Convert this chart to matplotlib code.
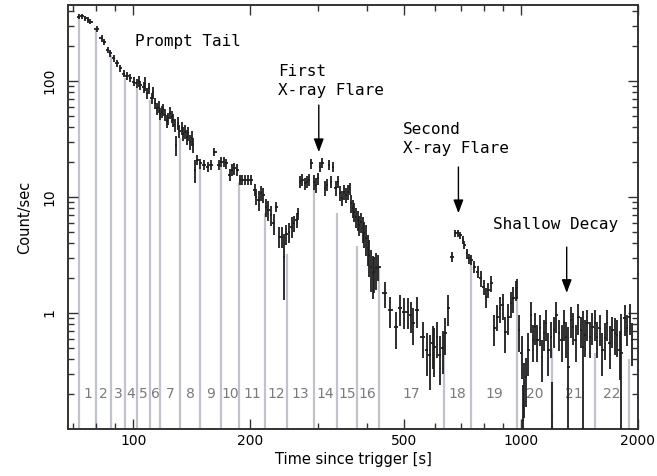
import numpy as np
import matplotlib
matplotlib.use("Agg")
import matplotlib.pyplot as plt
from matplotlib.ticker import LogLocator, FixedLocator, NullFormatter

# light curve: time [s], rate [count/s], relative error
t = [72.3, 73.8, 75.3, 76.3, 77.5, 80.6, 83.1, 83.9, 85.9, 87.3, 89.0, 90.8,
     92.6, 94.4, 96.3, 98.2, 100.2, 102.2, 103.5, 104.2, 106.3, 107.5, 108.4, 109.5,
     111.7, 112.5, 113.9, 115.0, 116.2, 117.5, 118.5, 119.5, 120.8, 122.0, 123.2, 124.5,
     125.7, 127.0, 128.2, 128.7, 130.7, 131.5, 133.4, 134.5, 136.0, 137.5, 138.7, 140.0,
     141.5, 142.5, 144.3, 146.3, 148.7, 152.1, 155.5, 158.3, 161.9, 166.5, 168.5, 170.9,
     173.7, 177.1, 179.7, 182.0, 185.5, 188.5, 191.2, 194.2, 198.0, 201.4, 205.5, 207.5,
     210.5, 213.8, 216.6, 219.7, 223.0, 226.2, 230.4, 233.9, 237.8, 242.0, 245.0, 248.3,
     251.8, 255.9, 259.9, 263.9, 266.4,
     # first flare
     268.7, 273.0, 276.8, 280.6, 283.9, 288.0, 292.0, 295.4, 299.5, 303.8, 307.4, 311.6,
     315.9, 319.6, 324.2, 327.3, 332.6, 337.2, 340.6, 344.6, 348.7, 352.8, 357.0, 361.3,
     364.1, 367.8, 371.5, 375.0, 378.8, 382.6, 386.3, 390.2, 394.1, 397.9, 401.9, 405.9,
     409.8, 414.0, 417.2, 421.4, 428.2, 444.5, 459.7, 476.3, 488.6, 498.3, 510.2, 520.6,
     527.7, 538.1, 557.6, 571.0, 582.6, 591.6, 597.5, 605.8, 618.0, 627.6, 636.6, 649.1,
     # second flare
     663.6, 676.6, 687.6, 697.0, 706.6, 714.0, 723.5, 735.1, 743.9, 757.2, 772.1, 787.8,
     800.0, 811.5, 822.6, 835.8, 852.3, 867.6, 881.6, 895.3, 909.8, 926.0, 942.6, 955.5,
     969.1, 975.0,
     # shallow decay
     988, 1004, 1010, 1018, 1032, 1044, 1059, 1073, 1086, 1101, 1117, 1130, 1146, 1162,
     1175, 1192, 1204, 1216, 1233, 1253, 1273, 1290, 1307, 1323, 1342, 1360, 1382, 1404,
     1424, 1444, 1461, 1481, 1502, 1526, 1550, 1571, 1594, 1618, 1644, 1667, 1690, 1717,
     1744, 1768, 1793, 1812, 1847, 1876, 1903, 1932]

rate = [358, 363, 347, 336, 325, 279, 233, 218, 185, 173, 157, 142,
        129, 116, 110, 106, 98.6, 95.5, 100, 92.4, 88.3, 95, 78.4, 86.5,
        71, 80, 64.3, 58, 60, 52, 54.4, 57, 50.9, 45, 47.7, 53,
        49.2, 46, 41.8, 28, 43.2, 37, 39.1, 35, 36.6, 33, 35.4, 30,
        32.1, 28, 17, 20.8, 19.5, 18.9, 18.2, 18.9, 24.6, 18.9, 20.1, 20.1,
        19.5, 15.5, 17.1, 17.7, 17.1, 14.0, 14.0, 14.0, 14.0, 14.0, 11.5, 10.1,
        9.4, 10.8, 10.4, 8.2, 7.7, 7.0, 5.93, 8.2, 4.55, 4.55, 3.06, 4.8,
        5.02, 5.55, 5.93, 6.33, 7.2,
        13.55, 14.0, 13.1, 13.55, 14.0, 19.5, 13.55, 12.7, 14.5, 18.2, 19.8, 11.9,
        12.7, 18.9, 13.55, 18.2, 11.9, 13.55, 10.8, 9.75, 11.1, 10.4, 11.1, 11.9,
        8.83, 7.98, 7.47, 6.76, 6.33, 5.74, 6.12, 5.37, 4.87, 4.41, 3.61, 3.16,
        2.51, 2.20, 2.27, 2.43, 2.51, 1.48, 1.06, 0.753, 1.10, 1.03, 1.03, 0.96,
        0.815, 1.06, 0.625, 0.480, 0.434, 0.548, 0.513, 0.625, 0.434, 0.496, 0.668, 1.10,
        3.06, 4.87, 4.87, 4.70, 4.26, 3.86, 3.27, 2.96, 2.86, 2.51, 2.27, 1.99,
        1.69, 1.38, 1.58, 1.80, 0.738, 0.929, 1.10, 1.17, 0.690, 0.929, 1.21, 1.34,
        1.58, 1.65,
        0.714, 0.449, 0.12, 0.248, 0.282, 0.480, 0.96, 0.585, 0.762, 0.585, 0.738, 0.42, 0.668, 0.815,
        0.48, 0.625, 0.13, 0.714, 0.96, 0.668, 0.585, 0.815, 0.625, 0.344, 0.87, 0.762, 0.585, 0.929,
        0.714, 0.512, 0.646, 0.815, 0.625, 0.762, 0.815, 0.625, 0.738, 0.48, 0.605, 0.815, 0.548, 0.714,
        0.668, 0.646, 0.48, 0.45, 0.90, 0.738, 0.929, 0.585]

rel_err = [0.05, 0.05, 0.05, 0.05, 0.05, 0.06, 0.06, 0.06, 0.06, 0.06, 0.07, 0.07,
           0.07, 0.07, 0.08, 0.08, 0.09, 0.09, 0.11, 0.09, 0.10, 0.14, 0.10, 0.11,
           0.11, 0.12, 0.11, 0.12, 0.11, 0.12, 0.12, 0.12, 0.12, 0.13, 0.12, 0.12,
           0.12, 0.13, 0.13, 0.20, 0.13, 0.13, 0.13, 0.14, 0.14, 0.15, 0.14, 0.15,
           0.15, 0.15, 0.22, 0.10, 0.10, 0.10, 0.10, 0.10, 0.08, 0.10, 0.10, 0.10,
           0.10, 0.12, 0.12, 0.12, 0.12, 0.10, 0.10, 0.10, 0.10, 0.10, 0.12, 0.15,
           0.20, 0.15, 0.15, 0.18, 0.20, 0.20, 0.20, 0.10, 0.20, 0.20, 0.58, 0.20,
           0.20, 0.20, 0.15, 0.15, 0.12,
           0.12, 0.12, 0.12, 0.12, 0.12, 0.10, 0.15, 0.15, 0.12, 0.10, 0.10, 0.15,
           0.12, 0.10, 0.12, 0.10, 0.15, 0.12, 0.15, 0.15, 0.15, 0.15, 0.15, 0.12,
           0.18, 0.18, 0.18, 0.20, 0.20, 0.20, 0.20, 0.25, 0.25, 0.30, 0.30, 0.35,
           0.40, 0.40, 0.35, 0.35, 0.25, 0.25, 0.30, 0.35, 0.30, 0.30, 0.30, 0.30,
           0.35, 0.30, 0.35, 0.40, 0.50, 0.40, 0.45, 0.35, 0.45, 0.40, 0.35, 0.30,
           0.10, 0.07, 0.07, 0.07, 0.08, 0.08, 0.10, 0.10, 0.10, 0.12, 0.12, 0.15,
           0.15, 0.20, 0.15, 0.15, 0.30, 0.25, 0.25, 0.25, 0.35, 0.30, 0.25, 0.25,
           0.20, 0.20,
           0.35, 0.40, 1.0, 0.50, 0.45, 0.40, 0.30, 0.35, 0.30, 0.35, 0.30, 0.40, 0.30, 0.30,
           0.40, 0.35, 0.95, 0.30, 0.30, 0.30, 0.35, 0.30, 0.35, 1.2, 0.30, 0.30, 0.35, 0.30,
           0.30, 1.05, 0.35, 0.30, 0.35, 0.30, 0.30, 0.35, 0.30, 0.40, 0.35, 0.30, 0.40, 0.30,
           0.35, 0.35, 0.45, 1.2, 0.30, 0.30, 0.30, 0.40]

# interval boundaries and the level each grey line reaches
bounds = [72.3, 80.3, 87.4, 95.4, 102.2, 110.4, 117.5, 132.3, 148.7, 168.7, 187.7, 218.4,
          249.2, 292, 335, 376.6, 429.8, 632.8, 742.5, 976.6, 1201, 1550, 1892]
bound_tops = [358, 275, 167, 106, 89, 68, 53, 32, 18, 18, 13.5, 7.3,
              3.2, 12, 7.3, 3.8, 2.5, 0.67, 2.86, 1.4, 0.5, 0.45, 0.4]
interval_labels = [str(i) for i in range(1, 23)]

t = np.array(t)
rate = np.array(rate)
err = rate * np.array(rel_err)
err_lo = np.minimum(err, rate - 1e-3)

# bin half-widths from neighbour spacing (capped)
edges = np.sqrt(t[1:] * t[:-1])
lo = np.r_[t[0] - (edges[0] - t[0]), edges]
hi = np.r_[edges, t[-1] + (t[-1] - edges[-1])]
xlo = np.minimum(t - lo, 0.015 * t)
xhi = np.minimum(hi - t, 0.015 * t)

fig = plt.figure(figsize=(6.57, 4.76), dpi=100)
ax = fig.add_axes([0.1035, 0.0987, 0.8675, 0.8908])
ax.set_xscale("log")
ax.set_yscale("log")
ax.set_xlim(67.9, 2000)
ax.set_ylim(0.1, 452)

ax.vlines(bounds, 0.1, bound_tops, color="#c0c2cc", lw=1.6, zorder=1)
for i, lab in enumerate(interval_labels):
    xm = np.sqrt(bounds[i] * bounds[i + 1])
    ax.text(xm, 0.2, lab, ha="center", va="center", fontsize=10,
            color="#7a7a7a", family="DejaVu Sans", zorder=1)

ax.errorbar(t, rate, yerr=[err_lo, err], xerr=[xlo, xhi], fmt="none",
            ecolor="#1e1e1e", elinewidth=1.3, capsize=0, zorder=3)

mono = "DejaVu Sans Mono"
ax.text(0.1175, 0.913, "Prompt Tail", transform=ax.transAxes, fontsize=11.5,
        family=mono, va="center", ha="left")
ax.text(0.368, 0.821, "First\nX-ray Flare", transform=ax.transAxes, fontsize=11.5,
        family=mono, va="center", ha="left", linespacing=1.35)
ax.text(0.588, 0.684, "Second\nX-ray Flare", transform=ax.transAxes, fontsize=11.5,
        family=mono, va="center", ha="left", linespacing=1.35)
ax.text(0.746, 0.483, "Shallow Decay", transform=ax.transAxes, fontsize=11.5,
        family=mono, va="center", ha="left")

arrow = dict(arrowstyle="-|>,head_width=0.3,head_length=0.8", color="black", lw=1.0,
             shrinkA=0, shrinkB=0)
ax.annotate("", xy=(0.440, 0.653), xytext=(0.440, 0.764), xycoords="axes fraction",
            arrowprops=arrow)
ax.annotate("", xy=(0.685, 0.509), xytext=(0.685, 0.618), xycoords="axes fraction",
            arrowprops=arrow)
ax.annotate("", xy=(0.875, 0.321), xytext=(0.875, 0.429), xycoords="axes fraction",
            arrowprops=arrow)

# ticks
ax.xaxis.set_minor_locator(LogLocator(base=10, subs=np.arange(2, 10)))
ax.xaxis.set_minor_formatter(NullFormatter())
ax.set_xticks([100, 200, 500, 1000, 2000])
ax.set_xticklabels(["100", "200", "500", "1000", "2000"])
ax.yaxis.set_major_locator(FixedLocator([1, 10, 100]))
ax.yaxis.set_minor_locator(LogLocator(base=10, subs=np.arange(2, 10)))
ax.yaxis.set_minor_formatter(NullFormatter())
ax.set_yticklabels(["1", "10", "100"], rotation=90, va="center")
ax.tick_params(which="both", direction="in", top=True, right=True, labelsize=10,
               width=1.0, color="#333333")
ax.tick_params(which="major", length=7)
ax.tick_params(which="minor", length=4)
ax.tick_params(axis="y", pad=8)
for s in ax.spines.values():
    s.set_linewidth(1.4)
    s.set_color("#333333")

ax.set_xlabel("Time since trigger [s]", fontsize=10.5, labelpad=3)
ax.set_ylabel("Count/sec", fontsize=10.5, labelpad=8)

fig.savefig("out.png", dpi=100)
